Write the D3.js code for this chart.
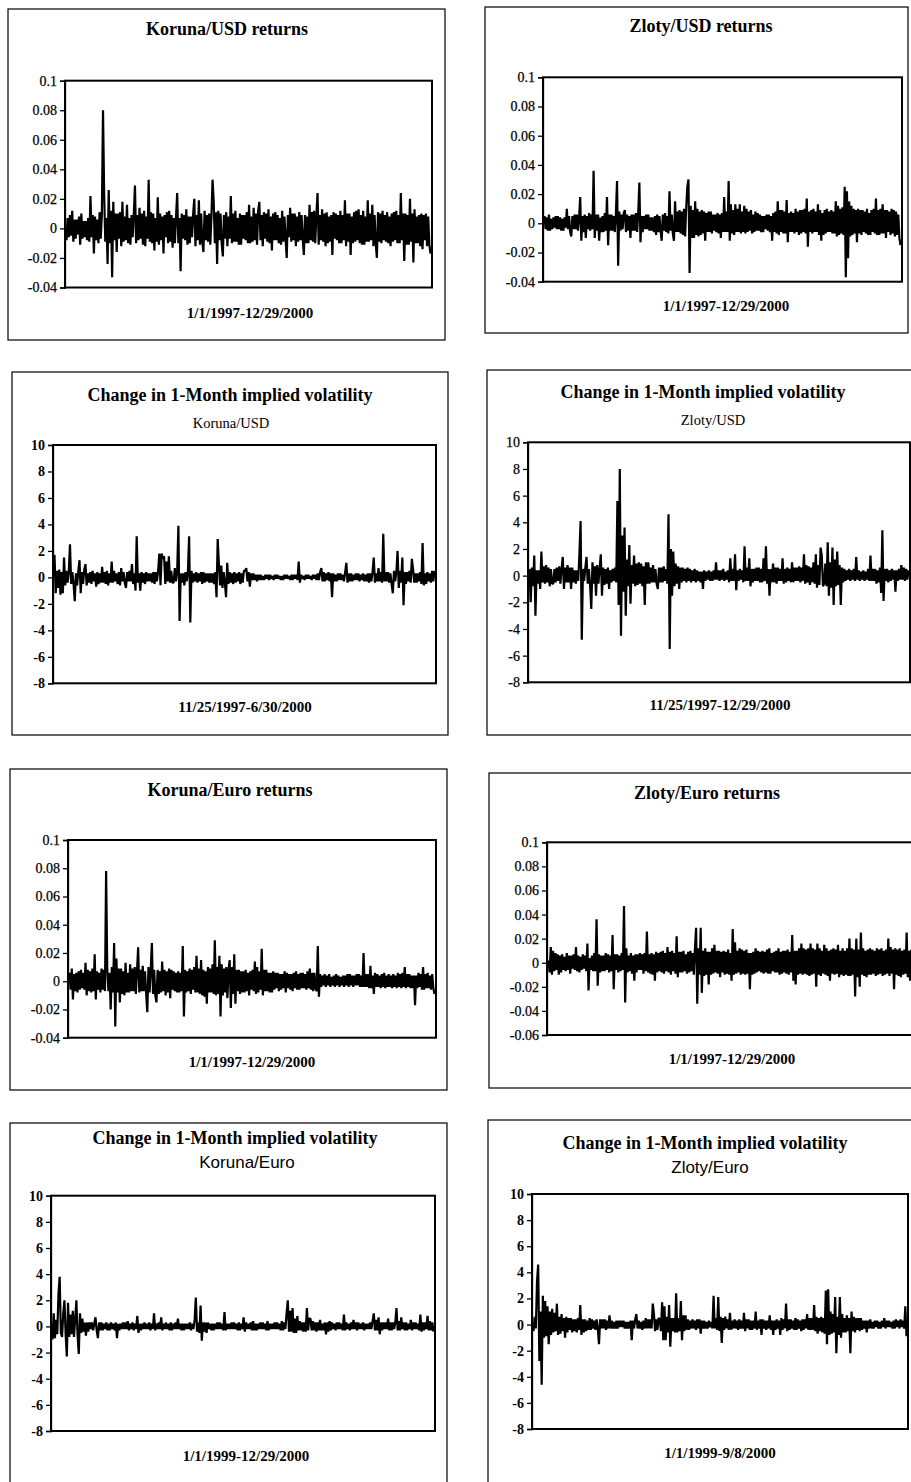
<!DOCTYPE html>
<html><head><meta charset="utf-8">
<script src="https://cdn.jsdelivr.net/npm/d3@7"></script>
<style>body{margin:0;background:#fff}svg{display:block}</style>
</head><body>
<svg id="c" width="911" height="1482"></svg>
<script>
// ---------- DATA ----------
const returnTicks = [0.1, 0.08, 0.06, 0.04, 0.02, 0, -0.02, -0.04];
const returnTicksWide = [0.1, 0.08, 0.06, 0.04, 0.02, 0, -0.02, -0.04, -0.06];
const volTicks = [10, 8, 6, 4, 2, 0, -2, -4, -6, -8];

const korunaUsdReturns = [
-0.008,0.007,-0.006,0.009,-0.005,0.012,-0.009,0.006,-0.007,0.006,-0.004,0.008,-0.011,0.010,-0.007,0.005,-0.006,0.005,-0.008,0.007,
-0.009,0.022,-0.006,0.009,-0.017,0.008,-0.008,0.006,-0.010,0.011,-0.007,0.010,0.080,0.023,-0.009,0.007,-0.024,0.026,-0.010,0.012,
-0.033,0.018,-0.008,0.010,-0.016,0.010,-0.007,0.011,-0.012,0.018,-0.009,0.008,-0.008,0.016,-0.010,0.007,-0.011,0.009,-0.006,0.010,
0.029,-0.010,0.009,-0.008,0.014,-0.007,0.010,-0.011,0.012,-0.012,0.008,-0.007,0.033,-0.009,0.011,-0.010,0.010,-0.015,0.007,-0.009,
0.021,-0.011,0.010,-0.008,0.008,-0.017,0.009,-0.006,0.011,-0.010,0.012,-0.009,0.009,-0.013,0.007,-0.010,0.008,0.024,-0.010,0.007,
-0.029,0.010,-0.007,0.009,-0.008,0.013,-0.011,0.008,-0.010,0.008,-0.006,0.010,0.020,-0.012,0.009,-0.008,0.019,-0.011,0.010,-0.009,
-0.016,0.012,-0.008,0.009,-0.009,0.010,-0.011,0.008,0.033,0.018,-0.010,0.011,-0.024,0.012,-0.008,0.010,-0.010,-0.019,0.009,-0.007,
0.011,-0.012,0.008,-0.007,0.022,-0.010,0.010,-0.009,0.012,-0.009,0.007,-0.011,0.010,-0.011,0.009,-0.007,0.009,-0.008,0.011,-0.010,
0.016,-0.010,0.008,-0.009,0.014,-0.008,0.010,-0.011,0.012,0.018,-0.008,0.009,-0.012,0.011,-0.007,0.010,-0.009,0.013,-0.010,0.008,
-0.015,0.010,-0.008,0.011,-0.008,0.009,-0.010,0.007,-0.011,0.012,-0.009,0.008,-0.007,-0.020,0.009,-0.006,0.014,-0.009,0.010,-0.008,
0.010,-0.012,0.008,-0.009,0.011,-0.008,0.009,-0.007,-0.018,0.009,-0.010,0.008,-0.010,0.016,-0.008,0.011,-0.009,0.012,-0.010,0.009,
0.024,-0.011,0.009,-0.008,0.013,-0.009,0.010,-0.012,0.011,-0.010,0.008,-0.009,0.009,-0.018,0.011,-0.007,0.010,-0.008,0.009,-0.010,
0.012,-0.010,0.009,-0.008,0.019,-0.012,0.010,-0.009,0.010,-0.018,0.008,-0.010,0.011,-0.009,0.012,-0.008,0.013,-0.010,0.009,-0.011,
0.012,-0.011,0.008,-0.009,0.019,-0.009,0.010,-0.008,0.016,-0.012,0.009,-0.010,-0.020,0.011,-0.009,0.010,-0.010,0.012,-0.008,0.009,
-0.009,0.011,-0.010,0.008,-0.012,0.010,-0.009,0.011,-0.008,0.012,-0.010,0.009,-0.010,0.024,-0.008,0.010,-0.022,0.010,-0.011,0.009,
-0.011,0.020,-0.009,0.010,-0.023,0.013,-0.010,0.008,-0.010,0.009,-0.012,0.010,-0.014,0.009,-0.008,0.010,-0.012,0.008,-0.011,-0.017];

const zlotyUsdReturns = [
0.005,-0.004,0.004,-0.005,0.006,-0.005,0.003,-0.004,0.004,-0.003,0.005,-0.004,0.005,-0.004,0.004,-0.005,0.003,-0.005,0.004,-0.003,
0.010,-0.004,0.005,-0.006,-0.009,0.005,-0.004,0.006,-0.004,0.006,-0.005,0.004,0.018,-0.012,0.005,-0.006,0.006,-0.010,0.005,-0.004,
0.007,-0.005,0.006,-0.004,0.036,-0.010,0.006,-0.005,0.006,-0.012,0.004,-0.006,0.005,-0.006,0.007,-0.005,0.018,-0.015,0.006,-0.005,
0.006,-0.005,0.005,-0.006,0.007,0.029,-0.029,0.008,-0.005,0.006,-0.004,0.007,0.009,-0.006,0.006,-0.005,0.005,-0.010,0.006,-0.005,
0.006,-0.005,0.007,-0.006,0.007,0.028,-0.013,0.005,-0.006,0.005,-0.004,0.006,-0.004,0.006,-0.005,0.004,-0.005,0.004,-0.006,0.005,
-0.008,0.006,-0.006,0.005,-0.005,-0.012,0.006,-0.005,0.007,-0.006,0.005,-0.007,0.022,-0.005,0.006,-0.007,-0.012,0.015,-0.006,0.008,
-0.006,0.009,-0.007,0.008,-0.008,0.010,-0.009,0.011,0.025,0.030,-0.034,0.012,-0.010,0.009,-0.010,0.015,-0.008,0.010,-0.009,0.008,
-0.008,0.009,-0.007,0.008,-0.012,0.007,-0.006,0.008,-0.006,0.008,-0.007,0.006,-0.005,0.006,-0.006,0.007,-0.007,0.006,-0.010,0.007,
-0.006,0.018,-0.006,0.008,-0.006,0.029,-0.012,0.013,-0.007,0.009,-0.008,0.013,-0.006,0.010,-0.006,0.013,-0.007,0.008,-0.006,0.012,
-0.007,0.010,-0.006,0.008,-0.005,0.009,-0.007,0.006,-0.006,0.008,-0.005,0.007,-0.005,0.006,-0.006,0.005,-0.006,0.005,-0.004,0.006,
-0.005,0.006,-0.006,0.005,-0.012,0.007,-0.006,0.008,-0.007,0.015,-0.008,0.009,-0.006,0.009,-0.007,0.008,-0.007,0.016,-0.013,0.007,
-0.006,0.008,-0.006,0.007,-0.007,0.010,-0.006,0.008,-0.008,0.009,-0.007,0.009,-0.006,0.010,-0.007,0.017,-0.016,0.008,-0.006,0.009,
-0.007,0.010,-0.006,0.008,-0.006,0.013,-0.008,0.009,-0.012,0.007,-0.008,0.009,-0.007,0.010,-0.006,0.008,-0.006,0.009,-0.007,0.008,
-0.007,0.015,-0.009,0.012,-0.008,0.010,-0.007,0.011,-0.008,0.025,-0.037,0.022,-0.024,0.015,-0.009,0.012,-0.008,0.010,-0.007,0.009,
-0.013,0.010,-0.007,0.009,-0.008,0.009,-0.006,0.008,-0.007,0.010,-0.008,0.007,-0.008,0.009,-0.006,0.010,-0.007,0.017,-0.008,0.009,
-0.008,0.010,-0.007,0.013,-0.007,0.009,-0.010,0.009,-0.006,0.008,-0.008,0.010,-0.007,0.009,-0.009,0.008,-0.008,0.006,-0.010,-0.015];

const korunaUsdVol = [
1.7,-1.2,0.5,-0.8,0.6,-1.3,0.4,-1.2,1.5,-0.6,0.5,-0.4,0.4,2.5,-0.5,0.4,-0.5,-1.8,0.3,-0.6,
0.5,1.3,-1.2,0.4,-0.5,0.6,1.0,-0.6,0.3,-0.4,0.4,-0.5,0.5,-0.3,0.3,-0.7,0.4,-0.5,0.3,-0.4,
0.8,-0.4,0.4,-0.5,0.5,-0.6,0.3,-0.4,1.2,-0.4,0.5,-0.3,0.3,-0.5,0.4,-0.6,0.7,-0.3,0.4,-0.4,
-0.8,0.4,-0.3,0.5,-0.3,1.0,-0.5,0.3,-1.0,3.1,-0.4,0.3,-1.0,0.4,-0.4,0.3,-0.5,0.4,-0.3,0.3,
-0.3,0.3,-0.4,0.4,-0.5,0.4,-0.3,0.5,1.8,-0.6,1.8,1.4,1.6,-0.5,1.2,-0.3,1.6,-0.4,0.5,-0.4,
-0.4,0.7,-0.3,0.5,3.9,-3.3,0.3,-0.4,0.3,-0.6,0.4,-0.3,0.4,3.1,-3.4,0.5,-0.4,0.3,-0.3,0.4,
-0.4,0.3,-0.3,0.4,-0.5,0.4,-0.4,0.3,-0.3,0.3,-0.4,0.3,-0.4,0.3,-0.5,0.4,-1.5,2.9,1.0,-0.6,
0.9,-0.8,0.4,-0.4,-1.5,1.1,-0.5,0.4,-0.4,0.3,-0.5,0.4,-0.4,0.3,-0.3,0.4,-0.5,0.3,-0.4,0.5,
0.5,0.7,-0.3,0.4,-0.7,0.3,-0.2,0.3,-0.2,0.2,-0.3,0.2,-0.2,0.2,-0.2,0.1,-0.2,0.2,-0.1,0.2,
-0.2,0.2,-0.1,0.1,-0.2,0.2,-0.1,0.2,-0.1,0.1,-0.2,0.1,-0.2,0.2,-0.1,0.2,-0.1,0.1,-0.2,0.2,
-0.2,0.2,-0.1,0.2,-0.2,1.2,-0.4,0.2,-0.1,0.1,-0.2,0.2,-0.1,0.2,-0.1,0.1,-0.2,0.2,-0.1,0.2,
-0.2,0.3,-0.2,0.4,0.7,-0.3,0.4,-0.3,0.3,-0.2,0.4,-0.3,0.3,-1.5,0.3,-0.3,0.2,-0.3,0.3,-0.2,
0.3,-0.2,0.2,-0.3,0.4,1.1,-0.4,0.3,-0.3,0.3,-0.3,0.2,-0.2,0.3,-0.2,0.3,-0.3,0.2,-0.2,0.3,
-0.3,0.2,-0.3,0.3,-0.4,0.3,-0.3,0.4,1.5,-0.4,0.3,-0.3,0.7,-0.3,0.4,-0.4,3.3,-0.3,0.4,-0.3,
0.4,-0.4,0.3,-0.5,-1.2,0.5,-0.3,0.4,2.0,-0.8,0.5,-0.4,1.5,-2.1,0.4,-0.5,0.4,-0.3,0.5,-0.4,
1.4,0.6,-0.4,0.3,-0.4,0.3,-0.3,0.4,-0.5,2.6,-0.6,0.3,-0.5,0.4,-0.3,0.3,-0.4,0.5,-0.3,0.5];

const zlotyUsdVol = [
0.5,-2.0,0.6,-0.8,1.5,-3.0,0.4,-0.6,0.4,-1.0,1.8,-0.5,0.7,-0.6,0.8,-0.5,0.6,-0.8,0.5,-0.6,
-0.6,0.5,-0.5,0.6,-0.4,0.7,-0.6,0.5,1.4,-1.0,0.6,-0.5,0.8,-0.5,0.6,-1.0,0.6,-0.5,0.4,-0.6,
0.4,-0.4,1.6,4.1,-4.8,0.5,-0.4,0.6,1.4,-0.6,0.5,-0.7,-2.5,1.0,-0.6,0.7,-1.5,0.8,-0.6,0.5,
1.6,-1.5,0.6,-0.7,0.5,-0.6,0.6,-1.0,0.4,-0.5,0.5,-0.4,0.6,-0.5,5.6,-2.2,8.0,-4.5,3.0,-1.2,
3.6,-3.0,1.2,-0.8,2.3,-2.1,0.8,-0.6,1.5,-0.8,0.9,-0.7,1.0,-0.6,0.9,-0.8,0.7,-2.2,1.0,-0.6,
1.0,-0.6,0.6,-0.5,0.8,-0.5,0.5,-0.6,-1.0,0.6,-0.5,0.6,-0.5,0.7,-0.4,0.5,-0.6,4.6,-5.5,2.0,
-1.5,1.8,-0.8,0.9,-0.6,0.7,-1.0,0.6,-0.5,0.6,-0.4,0.5,-0.5,0.6,-0.4,0.5,-0.5,0.4,-0.4,0.5,
-0.5,0.4,-0.4,0.3,-0.5,0.3,-1.0,0.4,-0.4,0.3,-0.3,0.4,-0.4,0.3,-0.4,0.4,-0.3,1.0,-0.3,0.4,
-0.4,0.4,-0.3,0.5,-0.4,0.3,-0.3,0.4,-0.5,1.3,-0.4,0.5,-0.4,1.6,-1.1,0.4,-0.4,0.5,-0.3,0.4,
-0.5,2.2,-0.4,0.6,-0.4,1.3,-0.8,0.5,-0.5,0.5,-0.4,0.6,-0.4,0.6,-0.5,0.5,-0.5,1.3,-0.4,2.2,
-0.6,0.5,-1.5,0.5,-0.5,0.9,-0.5,0.6,-0.6,0.6,-0.4,0.5,-0.4,1.3,-0.6,0.5,-0.5,0.6,-0.4,0.5,
-0.5,1.0,-0.5,0.6,-0.4,0.6,-0.4,0.7,-0.5,0.6,-0.4,1.6,-0.6,0.8,-0.5,0.7,-0.7,0.6,-0.5,1.0,
-0.6,1.6,-0.9,0.8,-0.7,2.1,1.5,-0.8,-0.6,0.9,-0.8,2.5,-1.5,1.0,-0.9,2.1,-2.2,1.2,-0.8,1.8,
-0.7,0.8,-2.2,0.6,-0.5,0.5,-0.4,0.4,-0.3,0.5,-0.4,0.4,-0.3,0.5,-0.4,1.4,-0.3,0.4,-0.4,0.3,
-0.3,0.4,-0.4,0.3,-0.3,0.5,-0.4,1.5,-0.4,0.5,-0.4,0.5,-0.6,0.4,-0.5,0.6,-1.3,3.4,-1.9,0.5,
-0.4,0.5,-0.5,0.4,-0.4,0.5,-0.3,0.4,-1.2,0.4,-0.4,0.5,-0.3,0.8,-0.3,0.6,-0.4,0.5,-0.3,0.4];

const korunaEuroReturns = [
0.006,-0.006,0.009,-0.013,0.005,-0.007,0.006,-0.008,0.007,-0.006,0.008,-0.005,0.006,-0.006,0.013,-0.010,0.008,-0.007,0.007,-0.008,
0.009,-0.007,0.019,-0.013,0.007,-0.006,0.006,-0.008,0.009,-0.006,0.008,-0.007,0.078,0.008,-0.007,0.006,-0.020,0.010,-0.008,0.027,
-0.032,0.016,-0.008,0.009,-0.015,0.009,-0.009,0.007,-0.010,0.013,-0.008,0.006,-0.008,0.012,-0.007,0.009,-0.007,0.010,-0.009,0.007,
0.024,-0.008,0.008,-0.007,0.011,-0.007,0.007,-0.009,-0.022,0.010,-0.008,0.008,0.027,-0.009,0.008,-0.010,-0.015,0.008,-0.009,0.007,
-0.008,0.014,-0.007,0.008,-0.010,0.007,-0.008,0.009,-0.012,0.008,-0.006,0.007,-0.007,0.006,-0.008,0.007,-0.008,0.006,-0.007,0.025,
-0.025,0.008,-0.008,0.007,-0.007,0.009,-0.009,0.008,-0.006,0.010,-0.008,0.018,-0.008,0.009,-0.009,0.015,-0.010,0.008,-0.011,0.007,
-0.016,0.010,-0.008,0.009,-0.008,0.012,-0.009,0.029,-0.010,0.010,-0.009,0.018,-0.025,0.012,-0.010,0.009,-0.008,0.010,-0.012,0.008,
0.015,-0.019,0.010,-0.009,0.019,-0.016,0.008,-0.007,0.008,-0.009,0.007,-0.008,0.007,-0.008,0.008,-0.007,0.006,-0.010,0.007,-0.006,
0.008,-0.007,0.014,-0.009,0.010,-0.008,0.007,-0.006,0.023,-0.010,0.008,-0.007,0.008,-0.007,0.006,-0.008,0.006,-0.008,0.007,-0.006,
0.006,-0.005,0.006,-0.007,0.005,-0.006,0.005,-0.005,0.007,-0.008,0.006,-0.005,0.005,-0.006,0.005,-0.007,0.006,-0.005,0.007,-0.006,
0.005,-0.006,0.006,-0.005,0.006,-0.005,0.005,-0.006,0.007,-0.005,0.009,-0.006,0.006,-0.007,0.006,-0.005,-0.007,0.025,-0.011,0.005,
-0.004,0.004,-0.003,0.005,-0.004,0.004,-0.003,0.005,-0.004,0.003,-0.003,0.004,-0.004,0.005,-0.003,0.004,-0.004,0.003,-0.003,0.004,
-0.004,0.004,-0.003,0.005,-0.004,0.005,-0.003,0.004,-0.004,0.004,-0.003,0.005,-0.003,0.005,-0.004,0.004,-0.004,0.020,-0.004,0.005,
-0.004,0.005,-0.005,0.011,-0.005,0.004,-0.009,0.006,-0.004,0.005,-0.004,0.004,-0.005,0.005,-0.004,0.006,-0.005,0.004,-0.004,0.005,
-0.004,0.004,-0.005,0.005,-0.004,0.004,-0.005,0.006,-0.004,0.005,-0.005,0.006,-0.004,0.010,-0.005,0.005,-0.004,0.005,-0.005,0.004,
-0.005,0.004,-0.017,0.004,-0.005,0.006,-0.004,0.005,-0.006,0.010,-0.006,0.005,-0.005,0.006,-0.005,0.004,-0.006,0.005,-0.005,-0.009];

const zlotyEuroReturns = [
0.002,-0.008,0.013,-0.010,0.010,-0.007,0.008,-0.006,0.007,-0.010,0.006,-0.008,0.007,-0.006,0.005,-0.007,0.008,-0.006,0.006,-0.009,
0.006,-0.005,0.007,-0.006,0.013,-0.007,0.006,-0.008,0.005,-0.006,0.007,-0.005,0.006,-0.007,0.016,-0.023,0.004,-0.006,0.006,-0.007,
0.008,-0.007,0.036,-0.019,0.007,-0.008,0.006,-0.007,0.006,-0.007,0.008,-0.006,0.007,-0.008,0.006,-0.007,0.023,-0.022,0.007,-0.006,
0.007,-0.008,0.006,-0.007,0.008,-0.006,0.047,-0.033,0.012,-0.008,0.006,-0.007,0.008,-0.009,0.006,-0.015,0.007,-0.008,0.007,-0.006,
0.008,-0.006,0.007,-0.009,0.008,-0.007,0.026,-0.008,0.007,-0.009,0.008,-0.010,0.007,-0.015,0.009,-0.008,0.008,-0.007,0.009,-0.008,
0.010,-0.009,0.008,-0.007,0.013,-0.008,0.009,-0.010,0.010,-0.007,0.008,-0.009,0.022,-0.012,0.009,-0.008,0.009,-0.008,0.010,-0.007,
0.007,-0.009,0.009,-0.008,0.010,-0.007,0.008,-0.010,0.012,0.029,-0.034,0.012,-0.010,0.029,-0.025,0.010,-0.011,0.012,-0.010,0.009,
-0.018,0.009,-0.010,0.012,-0.009,0.015,-0.008,0.010,-0.009,0.010,-0.012,0.009,-0.008,0.010,-0.010,0.009,-0.009,0.011,-0.010,0.008,
-0.015,0.028,-0.010,0.017,-0.009,0.010,-0.008,0.012,-0.010,0.011,-0.009,0.010,-0.010,0.011,-0.009,0.008,-0.022,0.008,-0.010,0.009,
-0.009,0.012,-0.008,0.010,-0.007,0.009,-0.008,0.010,-0.009,0.009,-0.008,0.011,-0.009,0.012,-0.009,0.008,-0.007,0.009,-0.008,0.010,
-0.008,0.012,-0.010,0.009,-0.009,0.010,-0.008,0.010,-0.009,0.011,-0.010,0.009,-0.008,0.023,-0.015,0.010,-0.018,0.010,-0.010,0.012,
-0.009,0.016,-0.010,0.012,-0.009,0.011,-0.010,0.012,-0.011,0.016,-0.010,0.012,-0.009,0.011,-0.020,0.016,-0.010,0.012,-0.011,0.010,
-0.009,0.015,-0.010,0.012,-0.011,0.010,-0.015,0.011,-0.009,0.012,-0.010,0.011,-0.009,0.015,-0.012,0.010,-0.010,0.012,-0.011,0.010,
-0.010,0.012,-0.011,0.020,-0.011,0.012,-0.010,0.011,-0.028,0.020,-0.012,0.011,-0.020,0.025,-0.010,0.012,-0.011,0.010,-0.012,0.011,
-0.010,0.012,-0.010,0.011,-0.009,0.010,-0.011,0.012,-0.010,0.011,-0.009,0.012,-0.011,0.010,-0.010,0.011,-0.009,0.020,-0.011,0.013,
-0.009,0.011,-0.022,0.012,-0.010,0.011,-0.011,0.012,-0.012,0.010,-0.010,0.011,-0.009,0.025,-0.012,0.010,-0.015,0.011,-0.010,0.012];

const korunaEuroVol = [
-1.0,1.0,-0.9,0.5,-0.6,2.5,3.8,-0.5,-0.8,1.0,2.0,-0.6,-2.3,1.8,-0.8,0.9,-0.6,1.2,-0.8,0.6,
2.0,-0.7,-2.1,1.0,-0.5,0.6,-0.4,0.3,-0.7,0.3,-0.4,0.3,-0.2,0.3,-0.3,0.2,0.7,-0.3,-0.9,0.3,
-0.3,0.3,-0.3,0.2,-0.2,0.3,-0.3,0.2,-0.3,0.3,-0.2,0.2,-0.3,0.3,-0.9,0.2,-0.3,0.2,-0.2,0.3,
-0.2,0.3,-0.2,0.4,-0.3,0.2,-0.2,0.3,-0.3,0.2,-0.2,0.8,-0.5,0.2,-0.3,0.2,-0.2,0.3,-0.2,0.2,
-0.2,0.3,-0.3,0.2,-0.2,1.0,-0.3,0.2,-0.2,0.3,-0.2,0.7,-0.3,0.2,-0.2,0.3,-0.2,0.2,-0.3,0.3,
-0.3,0.2,-0.2,0.3,-0.2,0.6,-0.2,0.2,-0.3,0.2,-0.3,0.2,-0.2,0.2,-0.2,0.3,-0.3,0.2,-0.2,0.5,
2.2,-0.4,0.3,-0.5,1.6,-1.1,0.3,-0.4,0.3,-0.5,0.3,-0.2,0.2,-0.3,0.2,-0.3,0.2,-0.2,0.3,-0.2,
0.3,-0.2,0.2,-0.3,1.1,-0.3,0.2,-0.2,0.2,-0.2,0.3,-0.2,0.3,-0.2,0.2,-0.3,0.3,-0.3,0.2,-0.2,
0.7,-0.4,0.3,-0.2,0.2,-0.2,0.3,-0.3,0.4,-0.3,0.2,-0.3,0.2,-0.2,0.3,-0.2,0.3,-0.2,0.2,-0.3,
0.4,-0.3,0.2,-0.2,0.2,-0.2,0.3,-0.2,0.3,-0.2,0.2,-0.3,0.4,-0.3,0.3,-0.2,1.0,2.0,-0.4,1.2,
-0.4,1.4,-0.5,0.6,-0.5,0.8,-0.3,0.4,-0.3,0.3,-0.4,0.3,-0.4,1.4,-0.3,0.6,0.6,-0.3,0.4,-0.3,
0.3,-0.4,0.3,-0.3,0.5,-0.3,0.2,-0.3,0.3,-0.6,0.3,-0.4,0.4,-0.3,0.3,-0.2,0.2,-0.3,0.3,-0.2,
0.3,-0.2,0.2,-0.3,0.9,-0.3,0.3,-0.2,0.2,-0.3,0.3,-0.2,0.5,-0.2,0.3,-0.3,0.3,-0.2,0.2,-0.2,
0.3,-0.3,0.2,-0.2,0.2,-0.2,0.3,-0.2,0.4,1.0,-0.3,0.5,-0.3,0.7,-0.6,0.3,-0.3,0.3,-0.2,0.3,
-0.2,0.6,-0.3,0.3,-0.3,0.3,-0.2,0.3,1.4,-0.3,0.4,-0.3,0.7,-0.2,0.3,-0.3,0.3,-0.3,0.2,-0.2,
0.5,-0.3,0.3,-0.2,0.3,-0.2,0.2,-0.3,0.9,-0.4,0.3,-0.3,0.3,-0.2,0.8,-0.3,0.4,-0.3,0.3,-0.4];

const zlotyEuroVol = [
-0.5,0.6,-0.3,3.3,4.6,-2.8,1.0,-4.6,2.2,-1.0,1.8,-0.9,1.4,-1.5,1.0,-0.8,1.2,-0.6,0.9,-0.5,
1.6,-0.8,0.6,-0.7,0.8,-0.5,0.5,-1.0,0.6,-0.6,0.5,-0.4,0.5,-0.6,0.4,-0.5,0.4,-0.6,0.5,-0.4,
1.5,-0.8,0.4,-0.6,0.4,-0.5,0.3,-0.4,0.5,-0.4,0.4,-0.3,0.3,-0.4,0.4,-0.3,-1.5,0.4,-0.3,0.4,
-0.3,0.4,-0.4,0.3,-0.3,0.7,-0.3,0.3,-0.3,0.2,-0.3,0.3,-0.3,0.3,-0.2,0.3,-0.2,0.3,-0.3,0.2,
-0.3,0.2,-0.3,0.3,-1.2,0.3,-0.3,0.4,0.8,-0.3,0.3,-0.3,0.2,-0.4,0.3,-0.3,0.5,-0.3,0.4,-0.3,
0.4,-0.3,1.6,0.8,-0.5,0.4,-0.4,0.5,0.4,-0.5,1.7,-1.2,1.4,-1.2,0.6,-0.6,1.5,-1.7,0.5,-0.5,
0.5,-0.6,2.4,-0.6,0.5,-0.5,1.8,-1.2,0.7,-0.5,0.7,-0.4,0.4,-0.4,0.3,-0.3,0.4,-0.3,0.3,-0.4,
0.4,-0.3,0.4,-0.7,0.3,-0.3,0.3,-0.3,0.2,-0.3,0.3,-0.2,0.2,-0.3,2.2,-0.3,0.5,-0.4,2.1,-0.5,
0.6,-1.4,0.5,-0.4,0.6,-0.3,0.4,-0.4,0.9,-0.4,0.3,-0.3,0.4,-0.3,0.3,-0.4,0.4,-0.3,0.3,-0.3,
0.9,-0.5,0.4,-0.3,0.4,-0.4,0.3,-0.4,0.3,-0.3,1.0,-0.4,0.3,-0.3,0.4,-0.8,0.4,-0.3,0.3,-0.4,
0.3,-0.3,0.7,-0.4,0.3,-0.8,0.3,-0.4,0.4,-0.3,0.3,-0.8,0.5,-0.4,0.4,-0.3,1.6,-0.5,0.4,-0.4,
0.4,-0.3,0.3,-0.4,0.5,-0.4,0.4,-0.3,0.3,-0.5,0.4,-0.4,0.4,-0.3,0.8,-0.4,0.5,-0.4,0.5,-0.4,
1.5,-0.5,0.6,-0.7,0.5,-0.5,0.6,-0.6,0.5,-0.7,2.6,-1.5,2.7,-0.8,1.0,-0.7,0.8,-0.6,2.1,-2.2,
0.6,-0.8,2.1,-1.0,0.8,-0.6,0.5,-0.6,0.7,-0.5,0.5,-2.2,1.0,-0.5,0.6,-0.6,0.5,-0.4,0.5,-0.5,
0.5,-0.4,0.3,-0.3,0.3,-0.6,0.3,-0.3,0.4,-0.3,0.2,-0.3,0.3,-0.2,0.3,-0.3,0.2,-0.3,0.3,-0.2,
0.5,-0.3,0.3,-0.2,0.3,-0.2,0.2,-0.3,0.3,-0.3,0.4,-0.2,0.3,-0.3,0.4,-0.2,0.3,-0.3,1.4,-0.9];

// ---------- LAYOUT ----------
const panels = [
 {title:"Koruna/USD returns", sub:null, xlab:"1/1/1997-12/29/2000", data:korunaUsdReturns, ticks:returnTicks, boldTicks:false,
  box:[8,9,445,340], plot:[65,80.7,432,287.5], tY:35, tX:227, lY:318, lX:250},
 {title:"Zloty/USD returns", sub:null, xlab:"1/1/1997-12/29/2000", data:zlotyUsdReturns, ticks:returnTicks, boldTicks:false,
  box:[485,7,908,333], plot:[543,77.3,902,281.7], tY:32, tX:701, lY:311, lX:726},
 {title:"Change in 1-Month implied volatility", sub:"Koruna/USD", subSans:false, xlab:"11/25/1997-6/30/2000", data:korunaUsdVol, ticks:volTicks, boldTicks:true,
  box:[12,372,448,735], plot:[53,445,436,683.3], tY:401, tX:230, sY:428, sX:231, lY:712, lX:245},
 {title:"Change in 1-Month implied volatility", sub:"Zloty/USD", subSans:false, xlab:"11/25/1997-12/29/2000", data:zlotyUsdVol, ticks:volTicks, boldTicks:false,
  box:[487,370,930,735], plot:[528,442.3,910,682.3], tY:398, tX:703, sY:425, sX:713, lY:710, lX:720},
 {title:"Koruna/Euro returns", sub:null, xlab:"1/1/1997-12/29/2000", data:korunaEuroReturns, ticks:returnTicks, boldTicks:false,
  box:[10,769,447,1090], plot:[68,840,436,1037.7], tY:796, tX:230, lY:1067, lX:252},
 {title:"Zloty/Euro returns", sub:null, xlab:"1/1/1997-12/29/2000", data:zlotyEuroReturns, ticks:returnTicksWide, boldTicks:false,
  box:[489,773,930,1088], plot:[547,842.3,915,1035], tY:799, tX:707, lY:1064, lX:732},
 {title:"Change in 1-Month implied volatility", sub:"Koruna/Euro", subSans:true, xlab:"1/1/1999-12/29/2000", data:korunaEuroVol, ticks:volTicks, boldTicks:true,
  box:[10,1123,447,1520], plot:[51,1195.7,435,1431], tY:1144, tX:235, sY:1168, sX:247, lY:1461, lX:246},
 {title:"Change in 1-Month implied volatility", sub:"Zloty/Euro", subSans:true, xlab:"1/1/1999-9/8/2000", data:zlotyEuroVol, ticks:volTicks, boldTicks:true,
  box:[488,1120,930,1520], plot:[532,1194,908,1429], tY:1149, tX:705, sY:1173, sX:710, lY:1458, lX:720}
];

const serif = "'Liberation Serif','Times New Roman',serif";
const sans = "'Liberation Sans',Arial,sans-serif";
const svg = d3.select("#c");
svg.append("rect").attr("width",911).attr("height",1482).attr("fill","#fff");

panels.forEach(p => {
  const g = svg.append("g");
  const [bx0,by0,bx1,by1] = p.box;
  g.append("rect").attr("x",bx0).attr("y",by0).attr("width",bx1-bx0).attr("height",by1-by0)
    .attr("fill","none").attr("stroke","#000").attr("stroke-width",1.2);
  const [px0,py0,px1,py1] = p.plot;
  const y = d3.scaleLinear().domain([p.ticks[p.ticks.length-1], p.ticks[0]]).range([py1,py0]);
  const x = d3.scaleLinear().domain([0,p.data.length-1]).range([px0+1.5,px1-1.5]);

  const ax = g.append("g").attr("transform",`translate(${px0},0)`)
    .call(d3.axisLeft(y).tickValues(p.ticks).tickSize(5).tickPadding(3).tickFormat(d => String(d)));
  ax.selectAll("text").attr("font-family",serif).attr("font-size",14).attr("fill","#000")
    .attr("font-weight",p.boldTicks?"bold":"normal")
    .attr("stroke","#000").attr("stroke-width",p.boldTicks?0:0.25);
  ax.selectAll("line,path").attr("stroke","#000").attr("stroke-width",1.3);

  g.append("rect").attr("x",px0).attr("y",py0).attr("width",px1-px0).attr("height",py1-py0)
    .attr("fill","none").attr("stroke","#000").attr("stroke-width",2);

  const line = d3.line().x((d,i)=>x(i)).y(d=>y(d));
  g.append("path").datum(p.data).attr("d",line).attr("fill","none")
    .attr("stroke","#000").attr("stroke-width",2.2).attr("stroke-linejoin","bevel");

  g.append("text").attr("x",p.tX).attr("y",p.tY).attr("text-anchor","middle")
    .attr("font-family",serif).attr("font-weight","bold").attr("font-size",18).text(p.title);
  if (p.sub) {
    g.append("text").attr("x",p.sX).attr("y",p.sY).attr("text-anchor","middle")
      .attr("font-family",p.subSans?sans:serif).attr("font-size",p.subSans?17:14.5).text(p.sub);
  }
  g.append("text").attr("x",p.lX).attr("y",p.lY).attr("text-anchor","middle")
    .attr("font-family",serif).attr("font-weight","bold").attr("font-size",15).text(p.xlab);
});
</script>
</body></html>
